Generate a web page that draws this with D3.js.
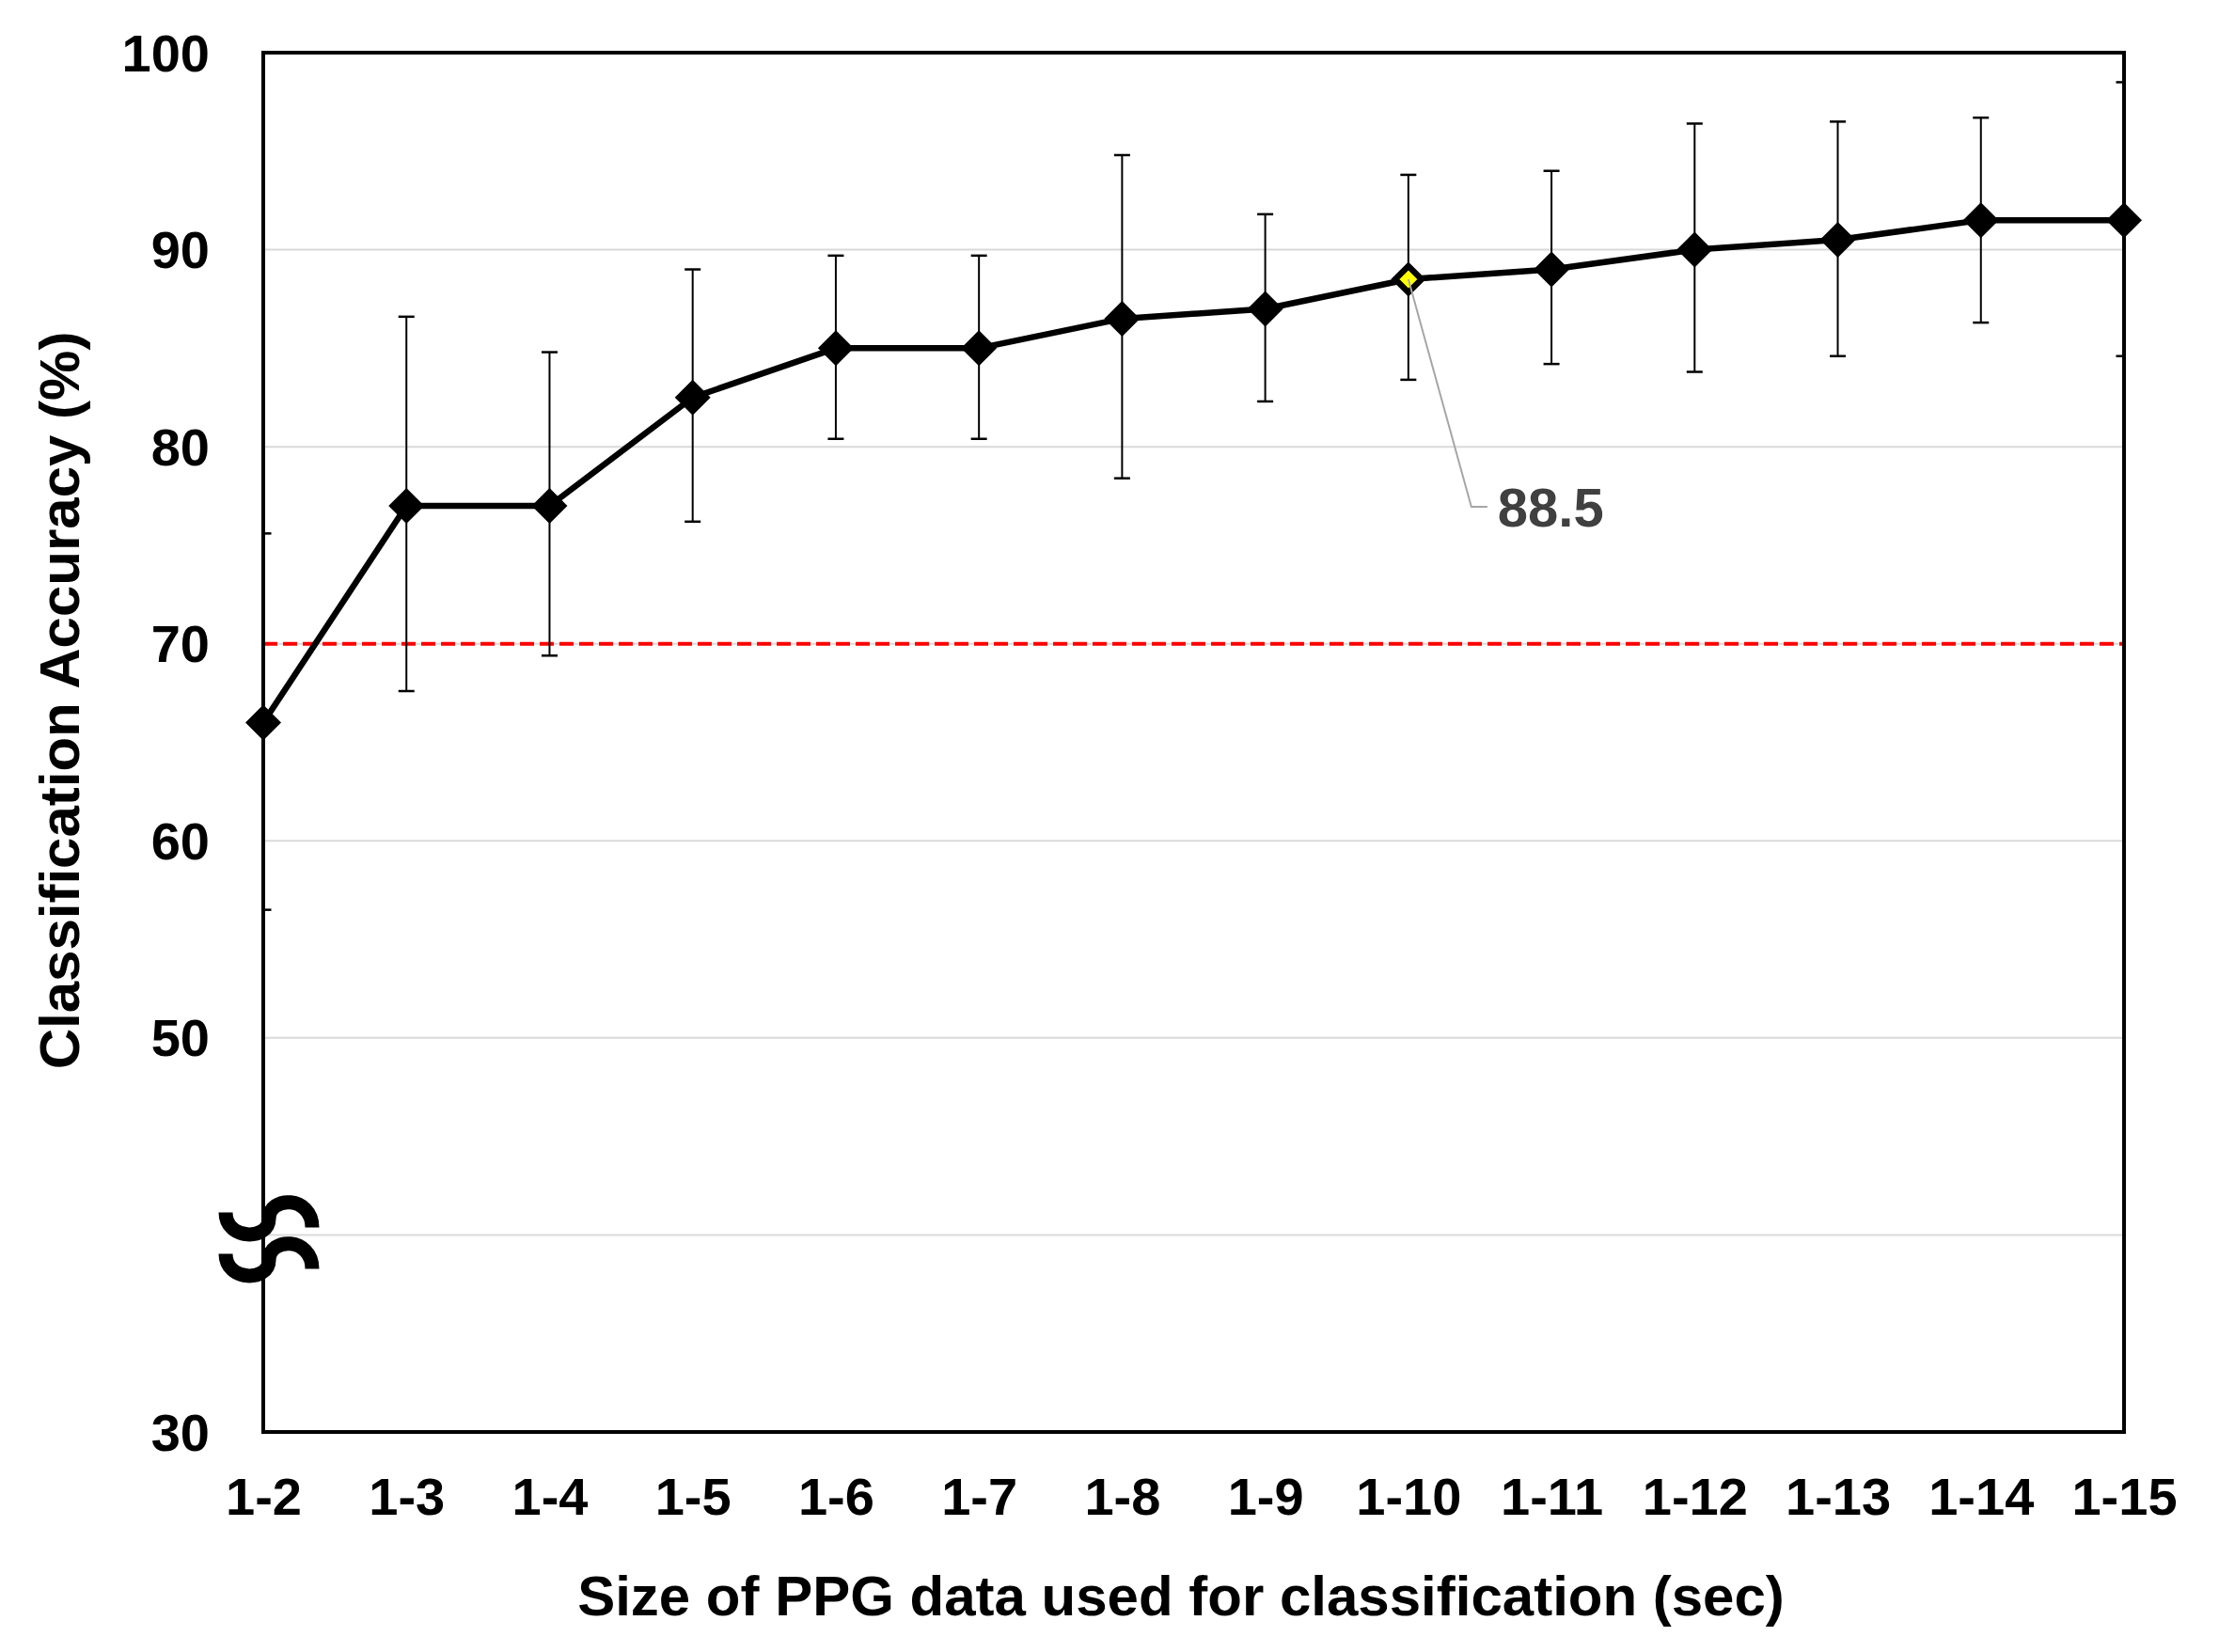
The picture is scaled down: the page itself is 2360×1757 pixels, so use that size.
<!DOCTYPE html>
<html>
<head>
<meta charset="utf-8">
<script src="https://cdn.jsdelivr.net/npm/d3@7"></script>
<style>
  html, body { margin: 0; padding: 0; background: #fff; }
  text { font-family: "Liberation Sans", Arial, sans-serif; font-weight: bold; }
</style>
</head>
<body>
<div id="chart"></div>
<script>
// window sizes (sec)
const categories = ["1-2", "1-3", "1-4", "1-5", "1-6", "1-7", "1-8", "1-9", "1-10", "1-11", "1-12", "1-13", "1-14", "1-15"];
// mean accuracy (%)
const accuracy = [66, 77, 77, 82.5, 85, 85, 86.5, 87, 88.5, 89, 90, 90.5, 91.5, 91.5];
// error bar ends
const upper = [75.6, 86.6, 84.8, 89.0, 89.7, 89.7, 94.8, 91.8, 93.8, 94.0, 96.4, 96.5, 96.7, 98.5];
const lower = [56.5, 67.6, 69.4, 76.2, 80.4, 80.4, 78.4, 82.3, 83.4, 84.2, 83.8, 84.6, 86.3, 84.6];
const yTicks = [30, 50, 60, 70, 80, 90, 100];
const gridValues = [40, 50, 60, 70, 80, 90];
const threshold = 70;
const breakAt = 40;
const highlightIndex = 8;   // point with a data label

const width = 2360, height = 1757;
const margin = {top: 56, right: 101, bottom: 234, left: 280};
const w = width - margin.left - margin.right;
const h = height - margin.top - margin.bottom;

const svg = d3.select("#chart").append("svg")
    .attr("width", width)
    .attr("height", height);

svg.append("rect").attr("width", width).attr("height", height).attr("fill", "#fff");

const g = svg.append("g").attr("transform", `translate(${margin.left},${margin.top})`);

const x = d3.scalePoint().domain(categories).range([0, w]);
const y = d3.scaleLinear().domain([30, 100]).range([h, 0]);

// clip for error bars (they hide under the frame at both ends)
svg.append("defs").append("clipPath").attr("id", "plotClip")
    .append("rect").attr("x", 2).attr("y", 2).attr("width", w - 4).attr("height", h - 4);

// grid
g.append("g").selectAll("line").data(gridValues).enter().append("line")
    .attr("x1", 0).attr("x2", w)
    .attr("y1", d => y(d)).attr("y2", d => y(d))
    .attr("stroke", "#d9d9d9").attr("stroke-width", 2);

// 70% reference line
g.append("line")
    .attr("x1", 0).attr("x2", w)
    .attr("y1", y(threshold)).attr("y2", y(threshold))
    .attr("stroke", "#ff0000").attr("stroke-width", 4)
    .attr("stroke-dasharray", "15,6");

// error bars
const bars = g.append("g").attr("clip-path", "url(#plotClip)");
categories.forEach((c, i) => {
    const cx = x(c);
    bars.append("line")
        .attr("x1", cx).attr("x2", cx)
        .attr("y1", y(upper[i])).attr("y2", y(lower[i]))
        .attr("stroke", "#000").attr("stroke-width", 2);
    [upper[i], lower[i]].forEach(v => {
        bars.append("line")
            .attr("x1", cx - 8.5).attr("x2", cx + 8.5)
            .attr("y1", y(v)).attr("y2", y(v))
            .attr("stroke", "#000").attr("stroke-width", 2.5);
    });
});

// frame
g.append("rect")
    .attr("x", 0).attr("y", 0).attr("width", w).attr("height", h)
    .attr("fill", "none").attr("stroke", "#000").attr("stroke-width", 4);

// axis break mark
const by = y(breakAt);
const breakPath = (dy) => {
    const yy = by + dy;
    return `M${-40},${yy - 24} C${-40},${yy + 6} ${6},${yy + 6} ${6},${yy - 17}` +
           ` C${6},${yy - 42} ${52},${yy - 42} ${52},${yy - 8}`;
};
[0, 44].forEach(dy => {
    g.append("path")
        .attr("d", breakPath(dy))
        .attr("fill", "none").attr("stroke", "#000").attr("stroke-width", 15);
});

// line
const line = d3.line()
    .x((d, i) => x(categories[i]))
    .y(d => y(d));
g.append("path")
    .datum(accuracy)
    .attr("d", line)
    .attr("fill", "none").attr("stroke", "#000").attr("stroke-width", 6.5)
    .attr("stroke-linejoin", "round");

// markers
const diamond = r => `M0,${-r} L${r},0 L0,${r} L${-r},0 Z`;
g.append("g").selectAll("path").data(accuracy).enter().append("path")
    .attr("transform", (d, i) => `translate(${x(categories[i])},${y(d)})`)
    .attr("d", (d, i) => i === highlightIndex ? diamond(14) : diamond(19))
    .attr("fill", (d, i) => i === highlightIndex ? "#ffff00" : "#000")
    .attr("stroke", (d, i) => i === highlightIndex ? "#000" : "none")
    .attr("stroke-width", 6.5)
    .attr("stroke-linejoin", "miter");

// data label with leader
const px = x(categories[highlightIndex]), py = y(accuracy[highlightIndex]);
g.append("path")
    .attr("d", `M${px},${py} L${px + 67},${py + 242} L${px + 84},${py + 242}`)
    .attr("fill", "none").attr("stroke", "#a6a6a6").attr("stroke-width", 2);
g.append("text")
    .attr("x", px + 95).attr("y", py + 263)
    .attr("fill", "#404040").attr("font-size", 58)
    .text(accuracy[highlightIndex]);

// y axis labels
const yAxis = d3.axisLeft(y).tickValues(yTicks).tickSize(0).tickPadding(57);
const ya = g.append("g").call(yAxis);
ya.select(".domain").remove();
ya.selectAll("text")
    .attr("font-size", 56).attr("fill", "#000")
    .attr("font-family", "Liberation Sans, Arial, sans-serif")
    .attr("dy", "0.34em");

// x axis labels
const xAxis = d3.axisBottom(x).tickSize(0).tickPadding(48);
const xa = g.append("g").attr("transform", `translate(0,${h})`).call(xAxis);
xa.select(".domain").remove();
xa.selectAll("text")
    .attr("font-size", 56).attr("fill", "#000")
    .attr("font-family", "Liberation Sans, Arial, sans-serif");

// axis titles
svg.append("text")
    .attr("x", 1256).attr("y", 1718)
    .attr("text-anchor", "middle")
    .attr("font-size", 60)
    .text("Size of PPG data used for classification (sec)");

svg.append("text")
    .attr("transform", "translate(84,745) rotate(-90)")
    .attr("text-anchor", "middle")
    .attr("font-size", 60)
    .text("Classification Accuracy (%)");
</script>
</body>
</html>
